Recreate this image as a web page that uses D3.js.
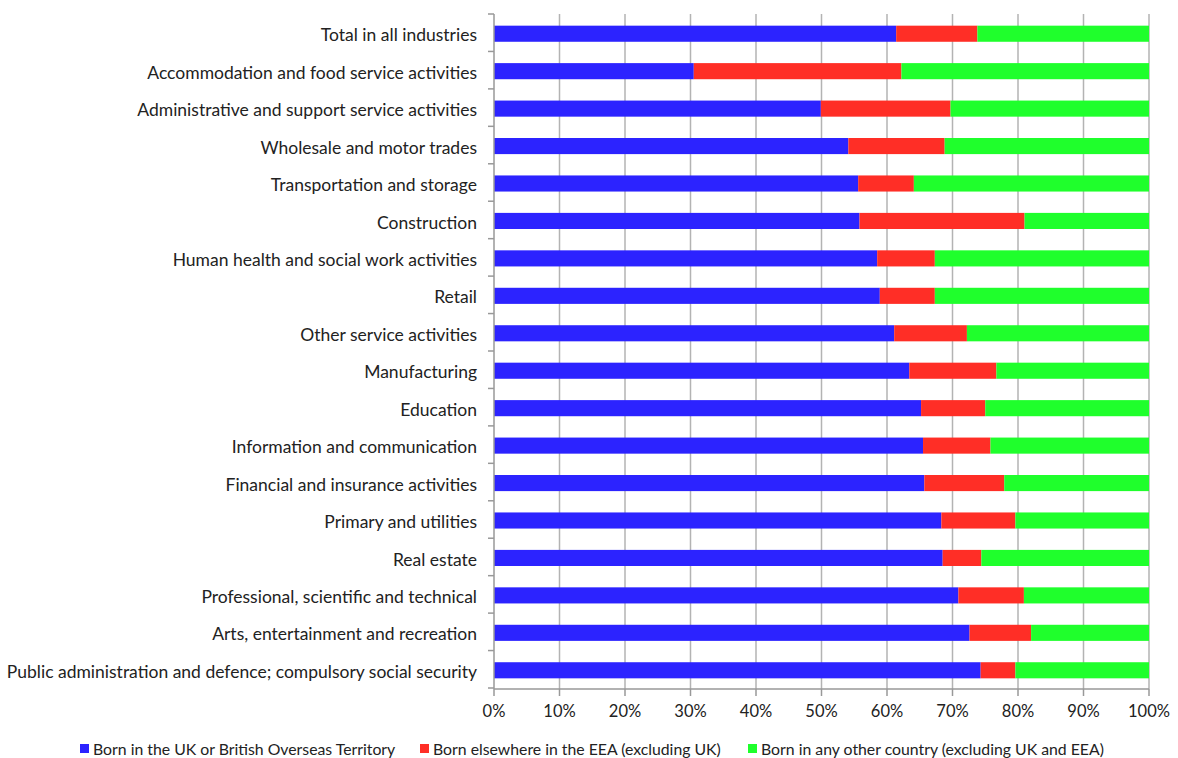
<!DOCTYPE html>
<html><head><meta charset="utf-8">
<script src="https://cdn.jsdelivr.net/npm/d3@7"></script>
<style>body{margin:0;background:#fff}svg{display:block}text{font-family:"Lato","Open Sans",sans-serif;fill:#222}</style>
</head><body><svg id="c" width="1178" height="758"></svg>
<script>
const categories = ["Total in all industries","Accommodation and food service activities","Administrative and support service activities","Wholesale and motor trades","Transportation and storage","Construction","Human health and social work activities","Retail ","Other service activities","Manufacturing","Education","Information and communication","Financial and insurance activities","Primary and utilities","Real estate","Professional, scientific and technical","Arts, entertainment and recreation","Public administration and defence; compulsory social security"];
const seriesNames = ["Born in the UK or British Overseas Territory","Born elsewhere in the EEA (excluding UK)","Born in any other country (excluding UK and EEA)"];
const ukBorn  = [61.4,30.5,49.9,54.1,55.6,55.8,58.5,58.9,61.1,63.4,65.2,65.5,65.7,68.3,68.5,70.9,72.6,74.3];
const eeaBorn = [12.4,31.7,19.8,14.7,8.5,25.2,8.8,8.4,11.1,13.3,9.8,10.3,12.2,11.3,5.9,10.0,9.4,5.3];
const otherBorn = ukBorn.map((u,i)=>+(100-u-eeaBorn[i]).toFixed(1));
const xTicks = [0,10,20,30,40,50,60,70,80,90,100];
const colors = ["#2c23ff","#ff2e26","#1fff2c"];

const svg = d3.select("#c");
const m = {l:494, r:1149, t:15, b:689};
const x = d3.scaleLinear().domain([0,100]).range([m.l,m.r]);
const y = d3.scaleBand().domain(categories).range([m.t,m.b]).paddingInner(0.57).paddingOuter(0.285);
const yb = d3.scaleBand().domain(categories).range([m.t,m.b]);

// gridlines
svg.append("g").selectAll("line").data(xTicks.slice(1)).join("line")
  .attr("x1",d=>x(d)).attr("x2",d=>x(d)).attr("y1",m.t-1).attr("y2",m.b)
  .attr("stroke","#b3b3b3").attr("stroke-width",1.5);

const rows = categories.map((c,i)=>({c, v:[ukBorn[i],eeaBorn[i],otherBorn[i]]}));
const stack = d3.stack().keys([0,1,2]).value((d,k)=>d.v[k])(rows);
svg.append("g").selectAll("g").data(stack).join("g").attr("fill",(d,i)=>colors[i])
  .selectAll("rect").data(d=>d).join("rect")
  .attr("x",d=>x(d[0])).attr("width",d=>x(d[1])-x(d[0]))
  .attr("y",d=>y(d.data.c)).attr("height",y.bandwidth());

// y axis
const ya = svg.append("g").attr("transform",`translate(${m.l},0)`);
ya.append("line").attr("x1",0).attr("x2",0).attr("y1",m.t-1).attr("y2",m.b).attr("stroke","#999").attr("stroke-width",1.5);
ya.selectAll("line.t").data(categories.concat(["__end"])).join("line").attr("class","t")
  .attr("x1",-6).attr("x2",0)
  .attr("y1",(d,i)=>m.t-1+i*yb.step()).attr("y2",(d,i)=>m.t-1+i*yb.step())
  .attr("stroke","#999").attr("stroke-width",1.5);
ya.selectAll("text").data(categories).join("text")
  .attr("x",-17).attr("y",d=>yb(d)+yb.bandwidth()/2+1.5).attr("dy","0.35em")
  .attr("text-anchor","end").attr("font-size",17.5).text(d=>d);

// x axis
const xa = svg.append("g").attr("transform",`translate(0,${m.b})`);
xa.append("line").attr("x1",m.l).attr("x2",m.r).attr("stroke","#999").attr("stroke-width",1.5);
xa.selectAll("line.t").data(xTicks).join("line").attr("class","t")
  .attr("x1",d=>x(d)).attr("x2",d=>x(d)).attr("y1",0).attr("y2",7)
  .attr("stroke","#999").attr("stroke-width",1.5);
xa.selectAll("text").data(xTicks).join("text")
  .attr("x",d=>x(d)).attr("y",28).attr("text-anchor","middle").attr("font-size",16.5).text(d=>d+"%");

// legend
const legX = [80,420,748];
const lg = svg.append("g").selectAll("g").data(seriesNames).join("g")
  .attr("transform",(d,i)=>`translate(${legX[i]},749)`);
lg.append("rect").attr("x",0).attr("y",-5).attr("width",9).attr("height",9).attr("fill",(d,i)=>colors[i]);
lg.append("text").attr("x",13).attr("y",0).attr("dy","0.35em").attr("font-size",15.8).text(d=>d);
</script></body></html>
